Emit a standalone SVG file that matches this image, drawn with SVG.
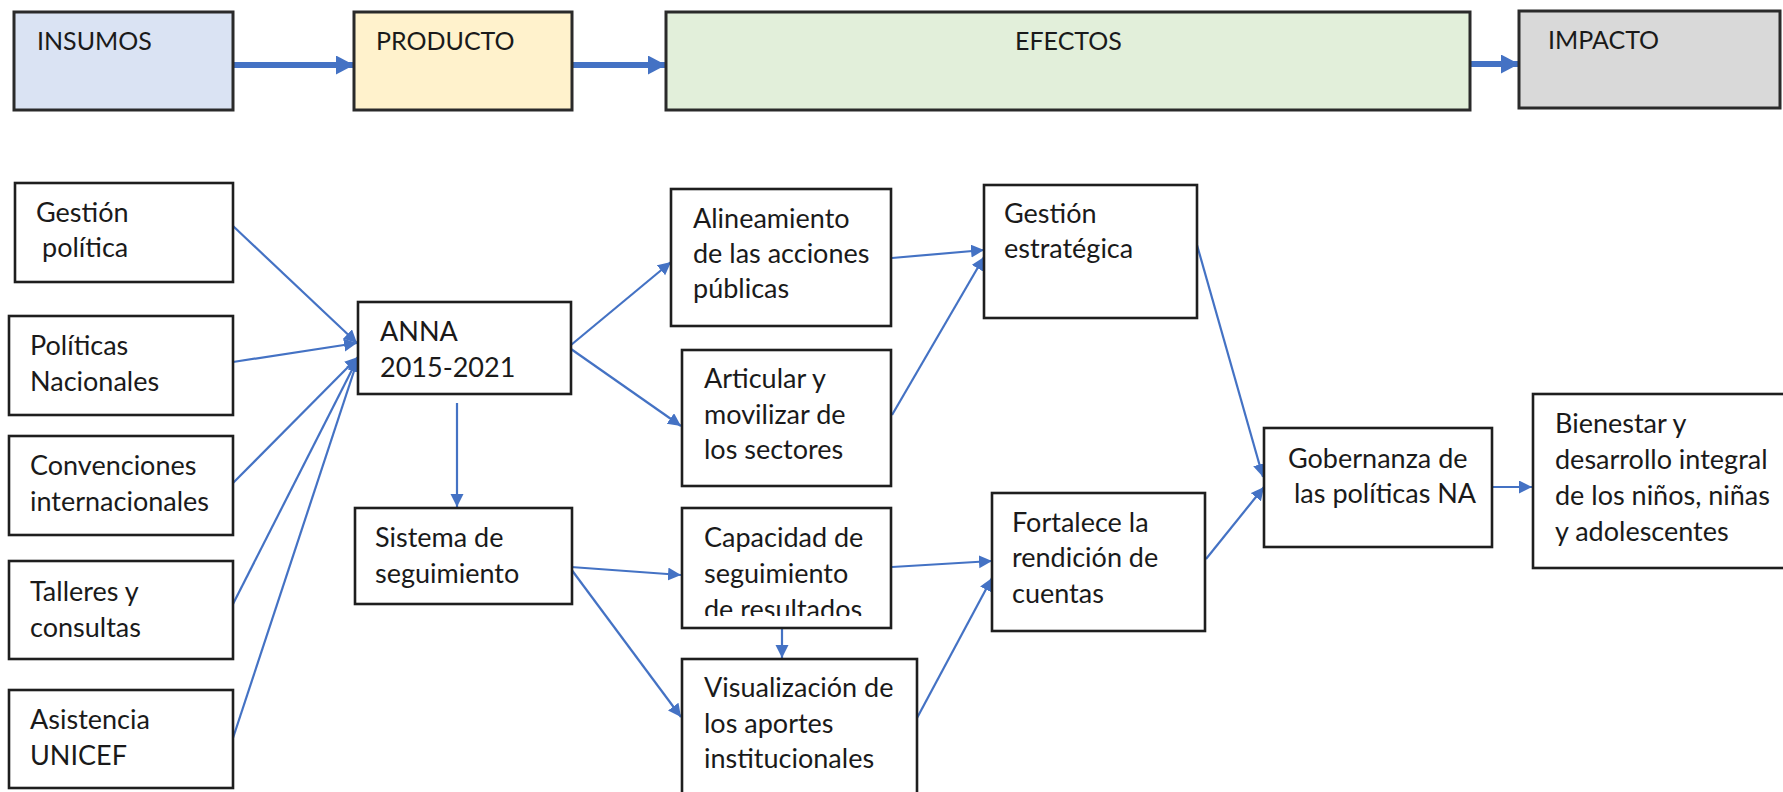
<svg xmlns="http://www.w3.org/2000/svg" width="1783" height="792" viewBox="0 0 1783 792">
<style>
.box{fill:#fff;stroke:#1e1e1e;stroke-width:2.6}
.hd{stroke:#2a2a2a;stroke-width:3}
.t{font-family:Lato,"Liberation Sans",sans-serif;font-size:27px;fill:#1a1a1a}
.h{font-family:Lato,"Liberation Sans",sans-serif;font-size:25px;fill:#1a1a1a}
.c{fill:none;stroke:#4472C4;stroke-width:2.2}
.ch{fill:none;stroke:#4472C4;stroke-width:6}
</style>
<defs>
<marker id="a" markerUnits="userSpaceOnUse" markerWidth="14" markerHeight="14" refX="13" refY="6.5" orient="auto"><path d="M0,0 L13,6.5 L0,13 z" fill="#4472C4"/></marker>
<marker id="ah" markerUnits="userSpaceOnUse" markerWidth="20" markerHeight="20" refX="18" refY="9.5" orient="auto"><path d="M0,0 L18,9.5 L0,19 z" fill="#4472C4"/></marker>
<clipPath id="capClip"><rect x="682" y="508" width="209" height="108"/></clipPath>
</defs>
<rect width="1783" height="792" fill="#fff"/>

<g id="connectors">
<line class="ch" x1="233" y1="65" x2="354" y2="65" marker-end="url(#ah)"/>
<line class="ch" x1="572" y1="65" x2="666" y2="65" marker-end="url(#ah)"/>
<line class="ch" x1="1471" y1="64" x2="1519" y2="64" marker-end="url(#ah)"/>
<line class="c" x1="233" y1="226" x2="357" y2="343" marker-end="url(#a)"/>
<line class="c" x1="233" y1="362" x2="357" y2="343" marker-end="url(#a)"/>
<line class="c" x1="233" y1="483" x2="358" y2="357" marker-end="url(#a)"/>
<line class="c" x1="233" y1="604" x2="358" y2="358" marker-end="url(#a)"/>
<line class="c" x1="233" y1="738" x2="358" y2="359" marker-end="url(#a)"/>
<line class="c" x1="571" y1="345" x2="671" y2="262" marker-end="url(#a)"/>
<line class="c" x1="571" y1="349" x2="681" y2="426" marker-end="url(#a)"/>
<line class="c" x1="457" y1="403" x2="457" y2="507" marker-end="url(#a)"/>
<line class="c" x1="571" y1="567" x2="681" y2="575" marker-end="url(#a)"/>
<line class="c" x1="571" y1="569" x2="681" y2="717" marker-end="url(#a)"/>
<line class="c" x1="782" y1="629" x2="782" y2="658" marker-end="url(#a)"/>
<line class="c" x1="892" y1="258" x2="984" y2="250" marker-end="url(#a)"/>
<line class="c" x1="892" y1="415" x2="984" y2="257" marker-end="url(#a)"/>
<line class="c" x1="892" y1="567" x2="992" y2="561" marker-end="url(#a)"/>
<line class="c" x1="917" y1="718" x2="992" y2="578" marker-end="url(#a)"/>
<line class="c" x1="1197" y1="245" x2="1263" y2="477" marker-end="url(#a)"/>
<line class="c" x1="1206" y1="559" x2="1264" y2="487" marker-end="url(#a)"/>
<line class="c" x1="1493" y1="487" x2="1532" y2="487" marker-end="url(#a)"/>
</g>

<g id="insumos"><rect class="hd" x="14" y="12" width="219" height="98" fill="#DAE3F3"/><text class="h" x="37" y="50">INSUMOS</text></g>
<g id="producto"><rect class="hd" x="354" y="12" width="218" height="98" fill="#FFF2CC"/><text class="h" x="376" y="50">PRODUCTO</text></g>
<g id="efectos"><rect class="hd" x="666" y="12" width="804" height="98" fill="#E2EFDA"/><text class="h" x="1015" y="50">EFECTOS</text></g>
<g id="impacto"><rect class="hd" x="1519" y="11" width="261" height="97" fill="#D9D9D9"/><text class="h" x="1548" y="49">IMPACTO</text></g>

<g id="gestion-politica"><rect class="box" x="15" y="183" width="218" height="99"/><text class="t" x="36" y="222">Gestión</text><text class="t" x="42" y="257">política</text></g>
<g id="politicas-nacionales"><rect class="box" x="9" y="316" width="224" height="99"/><text class="t" x="30" y="355">Políticas</text><text class="t" x="30" y="391">Nacionales</text></g>
<g id="convenciones"><rect class="box" x="9" y="436" width="224" height="99"/><text class="t" x="30" y="475">Convenciones</text><text class="t" x="30" y="511">internacionales</text></g>
<g id="talleres"><rect class="box" x="9" y="561" width="224" height="98"/><text class="t" x="30" y="601">Talleres y</text><text class="t" x="30" y="637">consultas</text></g>
<g id="asistencia"><rect class="box" x="9" y="690" width="224" height="98"/><text class="t" x="30" y="729">Asistencia</text><text class="t" x="30" y="765">UNICEF</text></g>

<g id="anna"><rect class="box" x="358" y="302" width="213" height="92"/><text class="t" x="380" y="341">ANNA</text><text class="t" x="380" y="377">2015-2021</text></g>
<g id="sistema"><rect class="box" x="355" y="508" width="217" height="96"/><text class="t" x="375" y="547">Sistema de</text><text class="t" x="375" y="583">seguimiento</text></g>

<g id="alineamiento"><rect class="box" x="671" y="189" width="220" height="137"/><text class="t" x="693" y="228">Alineamiento</text><text class="t" x="693" y="263">de las acciones</text><text class="t" x="693" y="298">públicas</text></g>
<g id="articular"><rect class="box" x="682" y="350" width="209" height="136"/><text class="t" x="704" y="388">Articular y</text><text class="t" x="704" y="424">movilizar de</text><text class="t" x="704" y="459">los sectores</text></g>
<g id="capacidad"><rect class="box" x="682" y="508" width="209" height="120"/><g clip-path="url(#capClip)"><text class="t" x="704" y="547">Capacidad de</text><text class="t" x="704" y="583">seguimiento</text><text class="t" x="704" y="619">de resultados</text></g></g>
<g id="visualizacion"><rect class="box" x="682" y="659" width="235" height="150"/><text class="t" x="704" y="697">Visualización de</text><text class="t" x="704" y="733">los aportes</text><text class="t" x="704" y="768">institucionales</text></g>

<g id="gestion-estrategica"><rect class="box" x="984" y="185" width="213" height="133"/><text class="t" x="1004" y="223">Gestión</text><text class="t" x="1004" y="258">estratégica</text></g>
<g id="fortalece"><rect class="box" x="992" y="493" width="213" height="138"/><text class="t" x="1012" y="532">Fortalece la</text><text class="t" x="1012" y="567">rendición de</text><text class="t" x="1012" y="603">cuentas</text></g>

<g id="gobernanza"><rect class="box" x="1264" y="428" width="228" height="119"/><text class="t" x="1288" y="468">Gobernanza de</text><text class="t" x="1294" y="503">las políticas NA</text></g>
<g id="bienestar"><rect class="box" x="1533" y="394" width="262" height="174"/><text class="t" x="1555" y="433">Bienestar y</text><text class="t" x="1555" y="469">desarrollo integral</text><text class="t" x="1555" y="505">de los niños, niñas</text><text class="t" x="1555" y="541">y adolescentes</text></g>
</svg>
